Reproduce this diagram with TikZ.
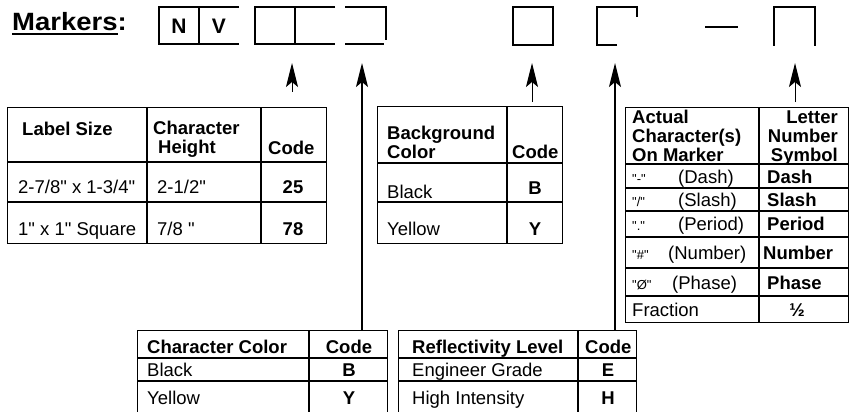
\documentclass[tikz,border=0pt]{standalone}
\usepackage{fontspec}
\setmainfont{Liberation Sans}[Ligatures=TeXOff]
\usetikzlibrary{arrows.meta}
\newcommand\ulmk[1]{\setbox0\hbox{#1}\rlap{\rule[-4pt]{\wd0}{1.8pt}}\box0}
\begin{document}
\begin{tikzpicture}[x=1pt,y=-1pt,
  tline/.style={line width=1.2pt},
  tbox/.style={draw, line width=1.2pt, inner sep=0pt, anchor=north west},
  txt/.style={inner sep=0pt, text height=13.2pt, text depth=0pt, font=\fontsize{18.5}{20}\selectfont},
  btxt/.style={inner sep=0pt, text height=13.2pt, text depth=0pt, font=\fontsize{18.5}{20}\selectfont\bfseries},
  qtxt/.style={inner sep=0pt, anchor=base west, font=\fontsize{13}{13}\selectfont},
  conn/.style={line width=1pt, -{Stealth[length=24pt,width=12pt,inset=5pt]}},
  longconn/.style={conn, line width=1.6pt},
  boxline/.style={line width=1.2pt},
]
\fill[white] (0,0) rectangle (849,412);
\useasboundingbox (0,0) rectangle (849,412);

% ---- title
\node[inner sep=0pt, anchor=base west] (mk) at (12,31)
  {\fontsize{25}{30}\selectfont\bfseries\scalebox{1.1}[1]{\ulmk{Markers}:}};

% ---- marker boxes
\draw[boxline] (239,7) -- (159,7) -- (159,44) -- (239,44);
\draw[boxline] (199,7) -- (199,44);
\node[inner sep=0pt, font=\fontsize{21}{24}\selectfont\bfseries] (n) at (179,26) {N};
\node[inner sep=0pt, font=\fontsize{21}{24}\selectfont\bfseries] (v) at (219,26) {V};
\draw[boxline] (335,7) -- (255,7) -- (255,44) -- (335,44);
\draw[boxline] (295,7) -- (295,44);
\draw[boxline] (345,7) -- (386,7) -- (386,40);
\draw[boxline] (345,44) -- (384,44);
\draw[boxline] (513,7) rectangle (553,45);
\draw[boxline] (617,45) -- (597,45) -- (597,7) -- (637,7) -- (637,17);
\draw[boxline] (705,27) -- (738,27);
\draw[boxline] (774,46) -- (774,7) -- (815,7) -- (815,46);

% ---- arrow tips and free ends
\coordinate (a1tip) at (292,63);  \coordinate (a1end) at (292,92);
\coordinate (a2tip) at (362,63);
\coordinate (a3tip) at (532,63);  \coordinate (a3end) at (532,102);
\coordinate (a4tip) at (615,63);
\coordinate (a5tip) at (795,63);  \coordinate (a5end) at (795,102);

% ---- table 1 : label size
\node[tbox, minimum width=319pt, minimum height=136pt] (ls) at (7,107) {};
\draw[tline] (7,162) -- (326,162) (7,202) -- (326,202) (147,107) -- (147,243) (261,107) -- (261,243);
\node[btxt, anchor=west] (ls1) at (22,129) {Label Size};
\node[btxt, anchor=west] (ls2) at (153,128) {Character};
\node[btxt, anchor=west] (ls3) at (158,147) {Height};
\node[btxt, anchor=west] (ls4) at (268,148) {Code};
\node[txt, anchor=west] (ls5) at (18,187) {2-7/8" x 1-3/4"};
\node[txt, anchor=west] (ls6) at (157,187) {2-1/2"};
\node[btxt] (ls7) at (293,187) {25};
\node[txt, anchor=west] (ls8) at (18,229) {1" x 1" Square};
\node[txt, anchor=west] (ls9) at (157,229) {7/8 "};
\node[btxt] (ls10) at (293,229) {78};

% ---- table 2 : background colour
\node[tbox, minimum width=185pt, minimum height=137pt] (bg) at (377,106) {};
\draw[tline] (377,163) -- (562,163) (377,202) -- (562,202) (507,106) -- (507,243);
\node[btxt, anchor=west] (bg1) at (387,133) {Background};
\node[btxt, anchor=west] (bg2) at (387,152) {Color};
\node[btxt, anchor=west] (bg3) at (512,152) {Code};
\node[txt, anchor=west] (bg4) at (387,192) {Black};
\node[btxt] (bg5) at (535,188) {B};
\node[txt, anchor=west] (bg6) at (387,229) {Yellow};
\node[btxt] (bg7) at (535,229) {Y};

% ---- table 3 : actual characters
\node[tbox, minimum width=222.5pt, minimum height=215pt] (ac) at (625,107) {};
\draw[tline] (625,164) -- (847.5,164) (625,188) -- (847.5,188) (625,211) -- (847.5,211)
  (625,237) -- (847.5,237) (625,268) -- (847.5,268) (625,296) -- (847.5,296)
  (759,107) -- (759,322);
\node[btxt, anchor=west] (ac1) at (632,117) {Actual};
\node[btxt, anchor=west] (ac2) at (632,136) {Character(s)};
\node[btxt, anchor=west] (ac3) at (632,155) {On Marker};
\node[btxt, anchor=east] (ac4) at (838,117) {Letter};
\node[btxt, anchor=east] (ac5) at (838,136) {Number};
\node[btxt, anchor=east] (ac6) at (838,155) {Symbol};
\node[qtxt] (q1) at (632,183) {"-"};
\node[txt, anchor=west] (ac7) at (678,177) {(Dash)};
\node[btxt, anchor=west] (ac8) at (767,177) {Dash};
\node[qtxt] (q2) at (632,206) {"/"};
\node[txt, anchor=west] (ac9) at (678,200) {(Slash)};
\node[btxt, anchor=west] (ac10) at (767,200) {Slash};
\node[qtxt] (q3) at (632,230) {"."};
\node[txt, anchor=west] (ac11) at (678,224) {(Period)};
\node[btxt, anchor=west] (ac12) at (767,224) {Period};
\node[qtxt] (q4) at (632,259) {"\#"};
\node[txt, anchor=west] (ac13) at (668,253) {(Number)};
\node[btxt, anchor=west] (ac14) at (763,253) {Number};
\node[qtxt] (q5) at (632,289) {"Ø"};
\node[txt, anchor=west] (ac15) at (672,283) {(Phase)};
\node[btxt, anchor=west] (ac16) at (767,283) {Phase};
\node[txt, anchor=west] (ac17) at (632,310) {Fraction};
\node[btxt] (ac18) at (797,310) {½};

% ---- table 4 : character colour
\node[tbox, minimum width=250pt, minimum height=90pt] (cc) at (137,330) {};
\draw[tline] (137,358) -- (387,358) (137,381) -- (387,381) (309,330) -- (309,420);
\node[btxt, anchor=west] (cc1) at (147,347) {Character Color};
\node[btxt] (cc2) at (349,347) {Code};
\node[txt, anchor=west] (cc3) at (147,370) {Black};
\node[btxt] (cc4) at (349,370) {B};
\node[txt, anchor=west] (cc5) at (147,398) {Yellow};
\node[btxt] (cc6) at (349,398) {Y};

% ---- table 5 : reflectivity
\node[tbox, minimum width=238pt, minimum height=90pt] (rf) at (398,330) {};
\draw[tline] (398,358) -- (636,358) (398,381) -- (636,381) (578,330) -- (578,420);
\node[btxt, anchor=west] (rf1) at (412,347) {Reflectivity Level};
\node[btxt, anchor=west] (rf2) at (585,347) {Code};
\node[txt, anchor=west] (rf3) at (412,370) {Engineer Grade};
\node[btxt] (rf4) at (608,370) {E};
\node[txt, anchor=west] (rf5) at (412,398) {High Intensity};
\node[btxt] (rf6) at (608,398) {H};

% ---- connectors
\draw[conn] (a1end) -- (a1tip);
\draw[longconn] (cc.north -| a2tip) -- (a2tip);
\draw[conn] (a3end) -- (a3tip);
\draw[longconn] (rf.north -| a4tip) -- (a4tip);
\draw[conn] (a5end) -- (a5tip);
\end{tikzpicture}
\end{document}
